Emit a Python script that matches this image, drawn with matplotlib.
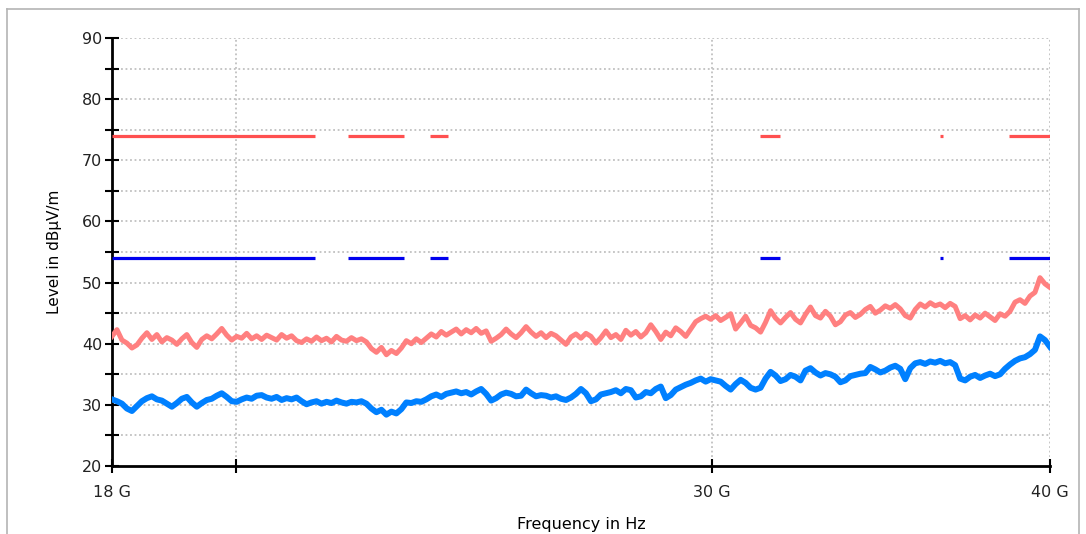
import matplotlib
matplotlib.use('Agg')
import matplotlib.pyplot as plt
from matplotlib.lines import Line2D
import numpy as np

# peak trace (pink), sweep 18 GHz .. 40 GHz
peak = [
    41.2, 42.3, 40.6, 40.1, 39.3, 39.8, 40.9, 41.8, 40.7, 41.5,
    40.3, 41.0, 40.6, 39.9, 40.8, 41.5, 40.2, 39.4, 40.7, 41.3,
    40.8, 41.6, 42.5, 41.4, 40.6, 41.2, 40.9, 41.7, 40.8, 41.3,
    40.7, 41.4, 41.0, 40.6, 41.5, 40.9, 41.3, 40.5, 40.2, 40.8,
    40.4, 41.1, 40.5, 40.9, 40.3, 41.2, 40.6, 40.4, 41.0, 40.5,
    40.8, 40.3, 39.2, 38.6, 39.4, 38.2, 38.9, 38.4, 39.3, 40.5,
    40.0, 40.8, 40.2, 40.9, 41.6, 41.1, 42.0, 41.4, 41.9, 42.4,
    41.6, 42.3, 41.8, 42.5, 41.7, 42.1, 40.4, 40.9, 41.5, 42.4,
    41.6, 41.0, 41.8, 42.8, 41.9, 41.2, 41.8, 41.0, 41.7, 41.3,
    40.6, 39.9, 41.1, 41.6, 40.9, 41.7, 41.2, 40.1, 41.0, 42.1,
    41.0, 41.5, 40.7, 42.2, 41.4, 42.0, 41.1, 41.8, 43.1, 42.0,
    40.7, 41.9, 41.3, 42.6, 42.0, 41.2, 42.4, 43.6, 44.1, 44.5,
    44.0, 44.6, 43.8, 44.3, 44.9, 42.4, 43.4, 44.5, 43.0, 42.6,
    41.9, 43.5, 45.4, 44.2, 43.4, 44.3, 45.1, 44.0, 43.4, 44.8,
    46.0, 44.6, 44.2, 45.3, 44.5, 43.1, 43.6, 44.7, 45.1, 44.3,
    44.8, 45.6, 46.1, 45.0, 45.5, 46.2, 45.8, 46.4, 45.7, 44.6,
    44.2, 45.6, 46.5, 46.0, 46.7, 46.2, 46.5, 45.9, 46.6, 46.1,
    44.1, 44.6, 43.9, 44.7, 44.2, 45.0, 44.4, 43.8, 44.9, 44.5,
    45.3, 46.8, 47.2, 46.6, 47.8, 48.4, 50.8, 49.8, 49.2,
]

# average trace (blue)
avg = [
    30.9, 30.6, 30.2, 29.4, 29.0, 29.8, 30.6, 31.1, 31.4, 30.9,
    30.7, 30.2, 29.7, 30.3, 31.0, 31.3, 30.4, 29.7, 30.3, 30.8,
    31.0, 31.5, 31.9, 31.3, 30.6, 30.5, 30.9, 31.2, 31.0, 31.5,
    31.6, 31.2, 31.0, 31.3, 30.8, 31.1, 30.9, 31.2, 30.6, 30.1,
    30.4, 30.6, 30.2, 30.5, 30.3, 30.7, 30.4, 30.2, 30.5, 30.4,
    30.6, 30.2, 29.4, 28.8, 29.2, 28.4, 28.9, 28.6, 29.3, 30.4,
    30.3, 30.6, 30.5, 30.9, 31.4, 31.7, 31.3, 31.8, 32.0, 32.2,
    31.9, 32.1, 31.7, 32.2, 32.6, 31.8, 30.7, 31.1, 31.7, 32.0,
    31.8, 31.4, 31.5, 32.5, 31.9, 31.4, 31.6, 31.5, 31.2, 31.4,
    31.0, 30.8, 31.2, 31.8, 32.6, 31.9, 30.6, 30.9, 31.7, 31.9,
    32.1, 32.4, 31.9, 32.6, 32.4, 31.2, 31.4, 32.1, 31.9, 32.6,
    33.0, 31.1, 31.6, 32.5, 32.9, 33.3, 33.6, 34.0, 34.3, 33.8,
    34.2, 34.0, 33.8, 33.1, 32.5, 33.4, 34.1, 33.6, 32.8, 32.5,
    32.8, 34.3, 35.4, 34.8, 33.9, 34.2, 34.9, 34.6, 34.0, 35.6,
    36.0, 35.3, 34.8, 35.2, 35.0, 34.6, 33.7, 34.0, 34.7, 34.9,
    35.1, 35.2, 36.2, 35.8, 35.3, 35.6, 36.1, 36.4, 35.9, 34.2,
    36.0, 36.8, 37.0, 36.7, 37.1, 36.9, 37.2, 36.8, 37.0, 36.5,
    34.3, 34.0, 34.6, 34.9, 34.4, 34.8, 35.1, 34.7, 35.0, 35.9,
    36.6, 37.2, 37.6, 37.8, 38.3, 39.0, 41.2, 40.6, 39.5,
]

# limit lines: visible segments (GHz)
limit_segments = [(18.0, 21.39), (22.0, 23.08), (23.6, 23.96),
                  (31.25, 31.78), (36.42, 36.52), (38.63, 40.0)]
limit_peak = 74
limit_avg = 54

freq = np.geomspace(18e9, 40e9, len(peak))

fig = plt.figure(figsize=(10.86, 5.34), dpi=100)
fig.set_facecolor('white')

# thin grey frame round the plot window
for xs, ys in [([0.0065, 0.0065], [0, 0.983]), ([0.0065, 0.9935], [0.983, 0.983]),
               ([0.9935, 0.9935], [0, 0.983])]:
    fig.add_artist(Line2D(xs, ys, transform=fig.transFigure, color='#b4b4b4', lw=1.2))

ax = fig.add_axes([0.1031, 0.1273, 0.8637, 0.8015])
ax.set_xscale('log')
ax.set_xlim(18e9, 40e9)
ax.set_ylim(20, 90)

for a, b in limit_segments:
    ax.plot([a * 1e9, b * 1e9], [limit_peak, limit_peak], color='#ff5050', lw=2.3,
            solid_capstyle='butt', zorder=3)
    ax.plot([a * 1e9, b * 1e9], [limit_avg, limit_avg], color='#0000ee', lw=2.3,
            solid_capstyle='butt', zorder=3)

ax.plot(freq, peak, color='#ff8080', lw=3.6, zorder=4)
ax.plot(freq, avg, color='#0080ff', lw=4.3, zorder=4)

# ticks
ax.set_xticks([18e9, 20e9, 30e9, 40e9])
ax.set_xticklabels(['18 G', '', '30 G', '40 G'])
ax.xaxis.set_minor_locator(plt.NullLocator())
ax.set_yticks(np.arange(20, 91, 10))
ax.set_yticks(np.arange(25, 90, 10), minor=True)
ax.tick_params(axis='both', which='both', direction='inout', length=10, width=1.5,
               colors='black', labelcolor='#222222', labelsize=11.5)
ax.tick_params(axis='x', pad=9)
ax.tick_params(axis='y', pad=2)

# grid
for y in np.arange(25, 91, 5):
    ax.axhline(y, color='#c0c0c0', lw=1.3, ls=(0, (1, 1.5)), zorder=1)
for x in [20e9, 30e9, 40e9]:
    ax.axvline(x, color='#c0c0c0', lw=1.3, ls=(0, (1, 1.5)), zorder=1)

ax.spines['top'].set_visible(False)
ax.spines['right'].set_visible(False)
ax.spines['left'].set_linewidth(2)
ax.spines['bottom'].set_linewidth(2)

ax.set_ylabel('Level in dBµV/m', fontsize=11, labelpad=14)
ax.set_xlabel('Frequency in Hz', fontsize=11.5, labelpad=12)

fig.savefig('out.png', dpi=100)
